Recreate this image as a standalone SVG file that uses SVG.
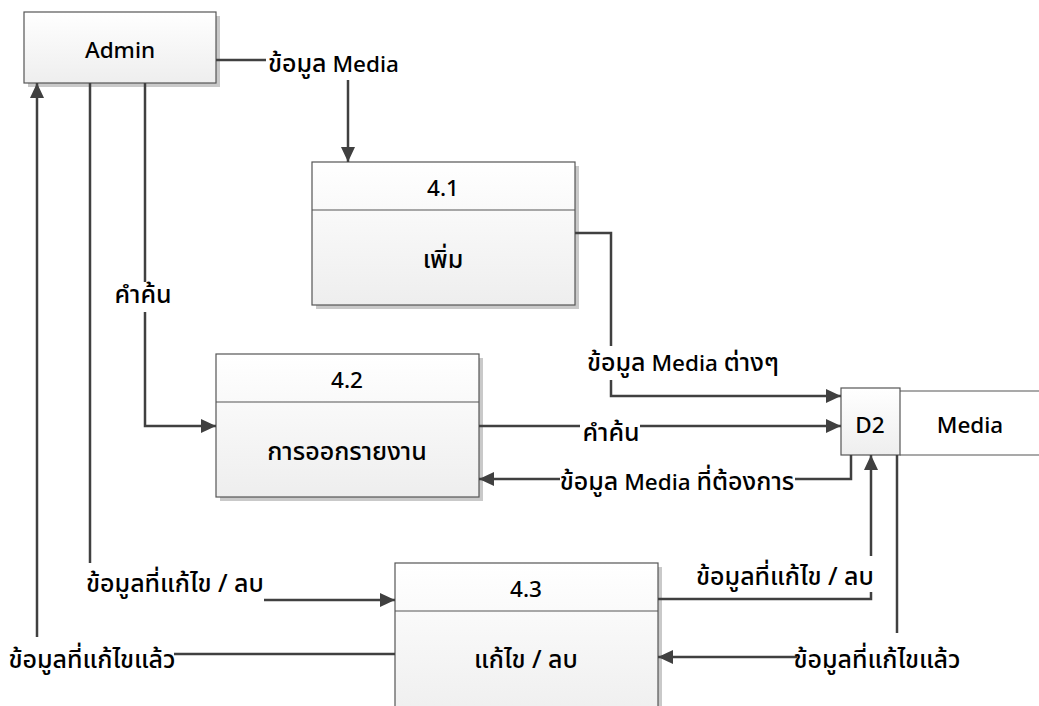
<svg xmlns="http://www.w3.org/2000/svg" width="1039" height="706" viewBox="0 0 1039 706">
<style>
text{font-family:"Noto Sans","Noto Sans Thai","DejaVu Sans",sans-serif;font-size:22.5px;font-weight:500;fill:#000}
.th{font-size:25px}
.c{text-anchor:middle}
.box{fill:url(#g);stroke:#555;stroke-width:1.2}
.sh{fill:#c9c9c9}
.div{stroke:#555;stroke-width:1.2}
.ln{fill:none;stroke:#404040;stroke-width:2.5}
.ar{marker-end:url(#ah)}
</style>
<defs>
<linearGradient id="g" x1="0" y1="0" x2="0" y2="1">
<stop offset="0" stop-color="#ffffff"/>
<stop offset="1" stop-color="#eeeeee"/>
</linearGradient>
<marker id="ah" markerUnits="userSpaceOnUse" markerWidth="16" markerHeight="14" refX="15" refY="7" orient="auto">
<path d="M0,0 L15,7 L0,14 Z" fill="#404040"/>
</marker>
</defs>

<g id="admin">
<rect class="sh" x="28" y="16" width="192" height="71"/>
<rect class="box" x="24" y="12" width="192" height="71"/>
<text class="c" x="120" y="58">Admin</text>
</g>

<g id="p41">
<rect class="sh" x="316" y="166" width="263" height="143"/>
<rect class="box" x="312" y="162" width="263" height="143"/>
<line class="div" x1="312" y1="210" x2="575" y2="210"/>
<text class="c" x="443" y="196">4.1</text>
<text class="c th" x="443" y="268">เพิ่ม</text>
</g>

<g id="p42">
<rect class="sh" x="220" y="358" width="263" height="143"/>
<rect class="box" x="216" y="354" width="263" height="143"/>
<line class="div" x1="216" y1="402" x2="479" y2="402"/>
<text class="c" x="347" y="388">4.2</text>
<text class="c th" x="347" y="460">การออกรายงาน</text>
</g>

<g id="p43">
<rect class="sh" x="399" y="567" width="263" height="160"/>
<rect class="box" x="395" y="563" width="263" height="160"/>
<line class="div" x1="395" y1="611" x2="658" y2="611"/>
<text class="c" x="526" y="597">4.3</text>
<text class="c th" x="526" y="668">แก้ไข / ลบ</text>
</g>

<g id="d2">
<path d="M900,391 H1040 M900,455 H1040" fill="none" stroke="#555" stroke-width="1.2"/>
<rect class="box" x="841" y="388" width="59" height="67"/>
<text class="c" x="870" y="433">D2</text>
<text class="c" x="970" y="433">Media</text>
</g>

<g id="connectors">
<path class="ln" d="M216,60 H266"/>
<path class="ln ar" d="M348,80 V162"/>
<path class="ln" d="M575,233 H611 V346"/>
<path class="ln ar" d="M611,380 V396 H841"/>
<path class="ln" d="M145,83 V282"/>
<path class="ln ar" d="M145,312 V426 H216"/>
<path class="ln" d="M479,426 H580"/>
<path class="ln ar" d="M640,426 H841"/>
<path class="ln" d="M851,455 V479 H795"/>
<path class="ln ar" d="M560,479 H479"/>
<path class="ln" d="M90,83 V563"/>
<path class="ln ar" d="M264,600 H395"/>
<path class="ln" d="M658,599 H871 V592"/>
<path class="ln ar" d="M871,556 V455"/>
<path class="ln" d="M897,455 V633"/>
<path class="ln ar" d="M797,657 H658"/>
<path class="ln" d="M395,654 H174"/>
<path class="ln ar" d="M37,637 V83"/>
</g>

<g id="labels">
<text x="268" y="72"><tspan class="th">ข้อมูล</tspan> Media</text>
<text class="c th" x="143" y="303">คำค้น</text>
<text class="c" x="683" y="371"><tspan class="th">ข้อมูล</tspan> Media <tspan class="th">ต่างๆ</tspan></text>
<text class="c th" x="611" y="441">คำค้น</text>
<text class="c" x="677" y="490"><tspan class="th">ข้อมูล</tspan> Media <tspan class="th">ที่ต้องการ</tspan></text>
<text class="c th" x="175" y="592">ข้อมูลที่แก้ไข / ลบ</text>
<text class="c th" x="92" y="668">ข้อมูลที่แก้ไขแล้ว</text>
<text class="c th" x="785" y="585">ข้อมูลที่แก้ไข / ลบ</text>
<text class="c th" x="877" y="668">ข้อมูลที่แก้ไขแล้ว</text>
</g>
</svg>
